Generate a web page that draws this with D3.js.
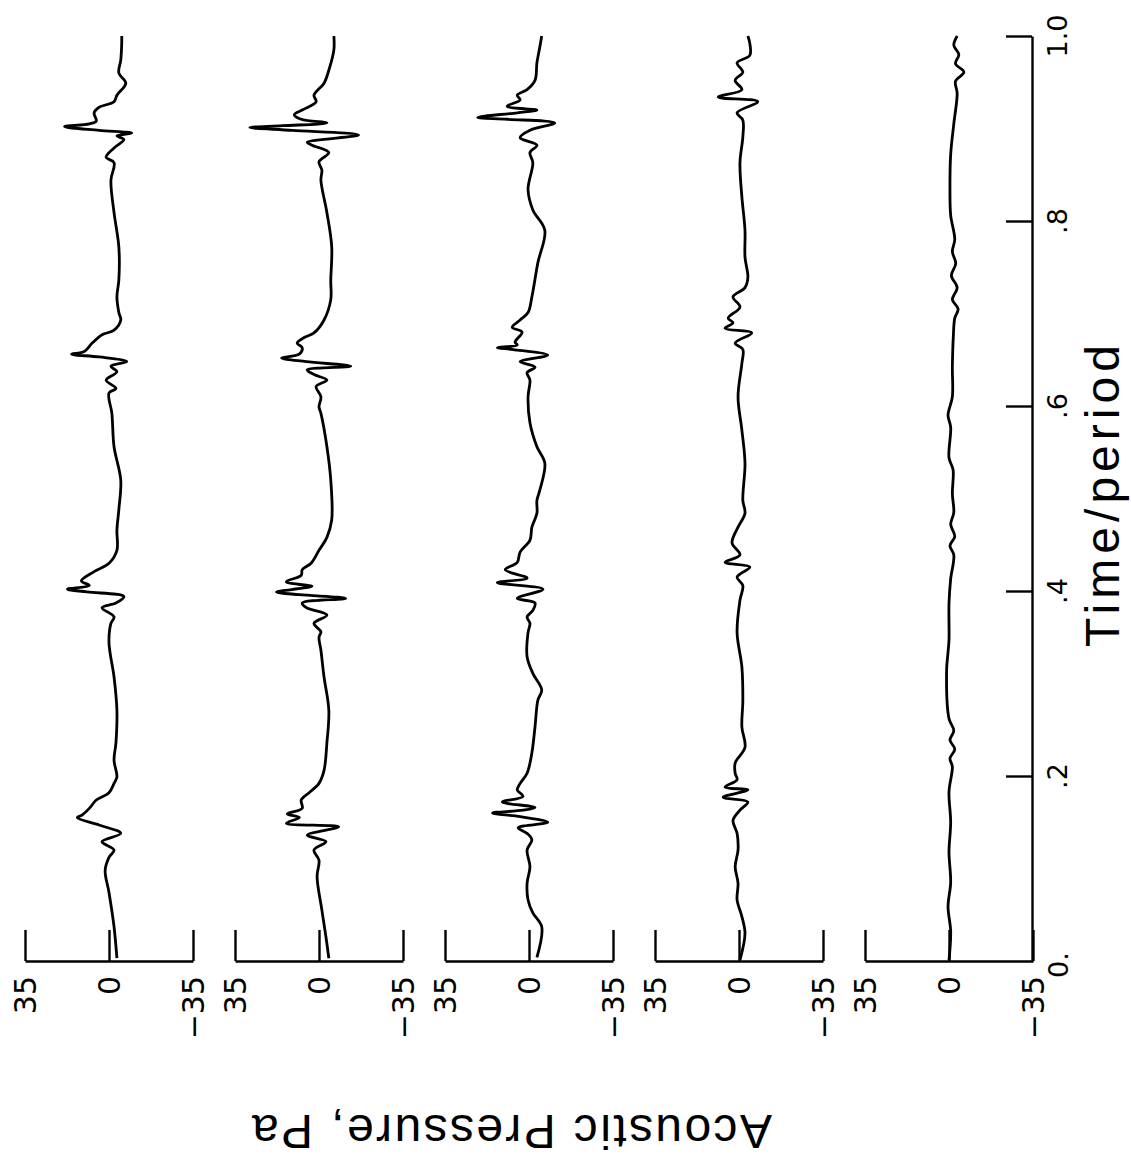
<!DOCTYPE html>
<html>
<head>
<meta charset="utf-8">
<script src="https://cdn.jsdelivr.net/npm/d3@7"></script>
<style>
  body { margin: 0; background: #fff; }
  svg { display: block; }
  .axis path, .axis line { stroke: #000; stroke-width: 2.4; }
</style>
</head>
<body>
<div id="chart"></div>
<script>
// pressure traces, [time/period, Pa], one per panel (left to right)
var trace1 = [[0.003,-3.3],[0.037,-2.1],[0.074,0.0],[0.098,1.6],[0.112,0.0],[0.120,-2.1],[0.129,2.9],[0.138,-4.9],[0.147,4.1],[0.155,13.2],[0.158,11.1],[0.165,8.2],[0.174,5.3],[0.182,0.0],[0.192,-2.1],[0.199,-3.3],[0.217,-2.1],[0.236,-2.9],[0.271,-3.3],[0.307,-2.1],[0.344,0.0],[0.365,-0.8],[0.372,-2.1],[0.382,2.9],[0.387,-2.9],[0.394,-6.2],[0.399,9.1],[0.402,17.3],[0.406,8.2],[0.411,11.5],[0.421,6.2],[0.430,0.0],[0.444,-3.3],[0.466,-3.3],[0.488,-4.1],[0.520,-4.9],[0.556,-2.1],[0.592,-1.2],[0.614,0.0],[0.619,-2.9],[0.628,1.2],[0.637,-3.3],[0.643,-0.8],[0.648,-7.4],[0.653,4.1],[0.656,15.6],[0.659,10.3],[0.668,7.0],[0.677,2.9],[0.682,-2.1],[0.693,-4.9],[0.701,-4.1],[0.718,-3.3],[0.736,-4.1],[0.772,-4.1],[0.809,-2.1],[0.844,-0.8],[0.863,-2.1],[0.869,1.2],[0.879,-2.1],[0.888,-6.2],[0.892,-3.3],[0.895,-9.5],[0.898,4.1],[0.902,18.5],[0.905,8.2],[0.908,5.3],[0.917,6.2],[0.923,4.1],[0.929,-2.1],[0.936,-3.3],[0.949,-7.0],[0.960,-4.1],[0.974,-4.9],[0.992,-5.3],[1.0,-5.3]];

var trace2 = [[0.003,-4.1],[0.026,-2.9],[0.055,-1.2],[0.091,0.8],[0.109,0.0],[0.120,2.1],[0.129,-2.9],[0.136,4.9],[0.145,-8.2],[0.149,13.6],[0.155,8.2],[0.159,13.2],[0.165,7.0],[0.174,7.4],[0.182,4.1],[0.192,0.0],[0.206,-2.1],[0.236,-3.3],[0.271,-4.1],[0.307,-2.1],[0.336,-0.8],[0.350,0.0],[0.356,-0.8],[0.365,2.1],[0.374,-3.3],[0.382,5.3],[0.387,7.0],[0.392,-11.1],[0.396,8.2],[0.399,17.7],[0.403,7.0],[0.405,2.9],[0.410,13.6],[0.417,7.4],[0.423,7.0],[0.430,3.3],[0.444,0.0],[0.458,-3.3],[0.477,-5.3],[0.520,-4.9],[0.556,-3.3],[0.592,-0.8],[0.599,0.0],[0.610,-0.8],[0.621,1.2],[0.628,-3.3],[0.634,2.1],[0.639,4.9],[0.643,-13.2],[0.648,5.3],[0.652,15.6],[0.656,8.2],[0.663,7.0],[0.668,9.1],[0.674,6.2],[0.679,2.1],[0.693,-2.1],[0.715,-4.9],[0.736,-4.9],[0.772,-5.3],[0.809,-3.3],[0.844,-0.8],[0.855,-1.2],[0.864,0.0],[0.874,-4.1],[0.882,2.9],[0.885,4.9],[0.893,-16.5],[0.898,11.1],[0.901,28.8],[0.903,15.2],[0.906,-3.3],[0.910,7.4],[0.915,10.3],[0.920,7.0],[0.929,1.2],[0.936,2.1],[0.949,-2.1],[0.963,-4.1],[0.985,-6.2],[1.0,-6.2]];

var trace3 = [[0.004,-3.3],[0.037,-5.3],[0.052,-1.6],[0.066,0.4],[0.084,0.8],[0.102,-0.4],[0.120,0.8],[0.131,-1.2],[0.138,0.8],[0.144,4.5],[0.150,-7.8],[0.156,3.7],[0.160,15.2],[0.163,2.5],[0.166,-2.5],[0.172,11.1],[0.178,2.5],[0.185,4.9],[0.192,3.7],[0.203,0.8],[0.225,-1.2],[0.253,-2.5],[0.282,-3.7],[0.293,-5.3],[0.311,-1.6],[0.329,0.8],[0.355,0.4],[0.365,-0.4],[0.372,0.8],[0.379,-1.6],[0.387,-2.5],[0.392,4.9],[0.402,-5.8],[0.409,13.2],[0.414,0.8],[0.423,9.9],[0.431,4.9],[0.442,3.7],[0.455,-0.4],[0.469,-1.2],[0.484,-3.3],[0.498,-3.3],[0.509,-4.5],[0.538,-6.6],[0.556,-3.3],[0.582,-0.4],[0.610,0.4],[0.628,-0.4],[0.636,0.8],[0.642,-2.5],[0.648,3.7],[0.655,-7.8],[0.661,6.6],[0.663,13.2],[0.666,4.9],[0.669,5.8],[0.680,2.9],[0.685,7.0],[0.693,3.7],[0.701,0.4],[0.718,-1.2],[0.755,-3.7],[0.790,-6.6],[0.812,-1.6],[0.834,0.4],[0.863,-1.6],[0.874,-0.4],[0.882,-3.3],[0.890,3.7],[0.898,-0.4],[0.906,-10.7],[0.910,9.1],[0.912,21.4],[0.917,4.9],[0.920,-3.3],[0.924,9.1],[0.931,3.7],[0.936,4.9],[0.942,0.8],[0.952,-2.5],[0.971,-3.3],[0.988,-4.5],[1.0,-5.3]];

var trace4 = [[0.001,-0.4],[0.030,-2.5],[0.048,-1.2],[0.066,0.8],[0.084,0.4],[0.102,1.6],[0.120,0.4],[0.138,0.8],[0.152,2.5],[0.163,-0.4],[0.172,-3.7],[0.177,6.6],[0.185,-3.7],[0.188,5.8],[0.196,0.8],[0.203,1.6],[0.214,1.6],[0.231,-2.5],[0.253,-1.2],[0.282,-1.6],[0.318,-1.2],[0.355,0.8],[0.390,-0.4],[0.406,-1.6],[0.415,0.8],[0.426,-4.5],[0.431,5.8],[0.439,-0.4],[0.452,2.9],[0.469,0.4],[0.484,-2.5],[0.498,-1.6],[0.538,-2.5],[0.574,-1.2],[0.610,0.4],[0.646,-1.2],[0.661,-1.6],[0.668,1.6],[0.679,-5.3],[0.684,5.8],[0.690,2.5],[0.695,4.5],[0.707,-0.4],[0.718,2.5],[0.728,-2.5],[0.739,-3.7],[0.761,-2.5],[0.790,-2.5],[0.826,-1.2],[0.863,-0.4],[0.891,-1.6],[0.909,-1.6],[0.917,0.8],[0.929,-7.8],[0.934,8.6],[0.942,-1.2],[0.952,1.6],[0.961,-1.6],[0.971,0.8],[0.979,-4.5],[0.992,-4.5],[1.0,-3.7]];

var trace5 = [[0.001,0.0],[0.032,-0.7],[0.059,0.4],[0.085,-0.7],[0.118,0.0],[0.150,-0.7],[0.183,0.0],[0.210,-1.4],[0.219,-0.4],[0.229,-2.4],[0.239,-0.4],[0.249,-2.0],[0.262,0.0],[0.314,1.0],[0.334,0.4],[0.347,0.0],[0.387,0.0],[0.413,-0.7],[0.439,-2.0],[0.449,-0.4],[0.459,-2.4],[0.472,-0.7],[0.485,-2.0],[0.505,-1.4],[0.531,-1.7],[0.544,0.0],[0.577,-0.7],[0.590,0.4],[0.610,-1.4],[0.642,-1.4],[0.675,-1.8],[0.695,-2.4],[0.705,-3.8],[0.715,-1.4],[0.728,-3.4],[0.741,-1.0],[0.754,-2.8],[0.767,-1.4],[0.780,-2.4],[0.806,-0.7],[0.833,-0.4],[0.872,-0.7],[0.905,-2.0],[0.938,-3.4],[0.951,-2.7],[0.961,-6.2],[0.970,-2.7],[0.980,-4.1],[0.990,-2.0],[1.0,-3.4]];

var traces = [trace1, trace2, trace3, trace4, trace5];
var pressureTicks = [35, 0, -35];
var timeTicks = [0.2, 0.4, 0.6, 0.8, 1.0];
var timeTickLabels = [".2", ".4", ".6", ".8", "1.0"];

var W = 1131, H = 1168;
var svg = d3.select("#chart").append("svg")
  .attr("width", W).attr("height", H)
  .style("background", "#fff");

var font = "'Liberation Sans', Arial, Helvetica, sans-serif";
var tickFont = "'DejaVu Sans', Verdana, sans-serif";

// time runs bottom -> top (figure is turned on its side)
var yT = d3.scaleLinear().domain([0, 1]).range([961, 36]);
var axisX = 1032;

var panelW = 168;
traces.forEach(function(tr, i) {
  var left = 25 + i * 210;
  var xP = d3.scaleLinear().domain([35, -35]).range([left, left + panelW]);

  svg.append("g")
    .attr("class", "axis")
    .attr("transform", "translate(0," + yT(0) + ")")
    .call(d3.axisTop(xP).tickValues(pressureTicks).tickSize(31).tickSizeOuter(0).tickFormat(""))
    .call(function(g) { g.selectAll("text").remove(); });

  svg.append("g").selectAll("text")
    .data(pressureTicks)
    .enter().append("text")
    .attr("transform", function(d) { return "translate(" + (xP(d) + 11) + ",976) rotate(-90)"; })
    .attr("text-anchor", "end")
    .style("font-family", tickFont)
    .style("font-size", "30px")
    .text(function(d) { return d < 0 ? "\u2212" + Math.abs(d) : d; });

  var line = d3.line()
    .x(function(d) { return xP(d[1]); })
    .y(function(d) { return yT(d[0]); })
    .curve(d3.curveCatmullRom.alpha(0.5));

  svg.append("path")
    .datum(tr)
    .attr("d", line)
    .attr("fill", "none")
    .attr("stroke", "#000")
    .attr("stroke-width", 2.8)
    .attr("stroke-linejoin", "round");
});

// time axis on the right
svg.append("g")
  .attr("class", "axis")
  .attr("transform", "translate(" + axisX + ",0)")
  .call(d3.axisLeft(yT).tickValues(timeTicks).tickSize(26).tickSizeOuter(0).tickFormat(""));

svg.append("g").selectAll("text")
  .data(timeTicks)
  .enter().append("text")
  .attr("transform", function(d) { return "translate(1067," + yT(d) + ") rotate(-90)"; })
  .attr("text-anchor", "middle")
  .style("font-family", tickFont)
  .style("font-size", "27px")
  .text(function(d, i) { return timeTickLabels[i]; });

svg.append("text")
  .attr("transform", "translate(1068," + (yT(0) + 4) + ") rotate(-90)")
  .attr("text-anchor", "middle")
  .style("font-family", tickFont)
  .style("font-size", "27px")
  .text("0.");

svg.append("text")
  .attr("transform", "translate(1119,496) rotate(-90)")
  .attr("text-anchor", "middle")
  .attr("textLength", 302)
  .attr("lengthAdjust", "spacing")
  .style("font-family", font)
  .style("font-size", "48px")
  .text("Time/period");

svg.append("text")
  .attr("transform", "translate(512,1115) rotate(180)")
  .attr("text-anchor", "middle")
  .attr("textLength", 520)
  .attr("lengthAdjust", "spacing")
  .style("font-family", font)
  .style("font-size", "48px")
  .text("Acoustic Pressure, Pa");
</script>
</body>
</html>
